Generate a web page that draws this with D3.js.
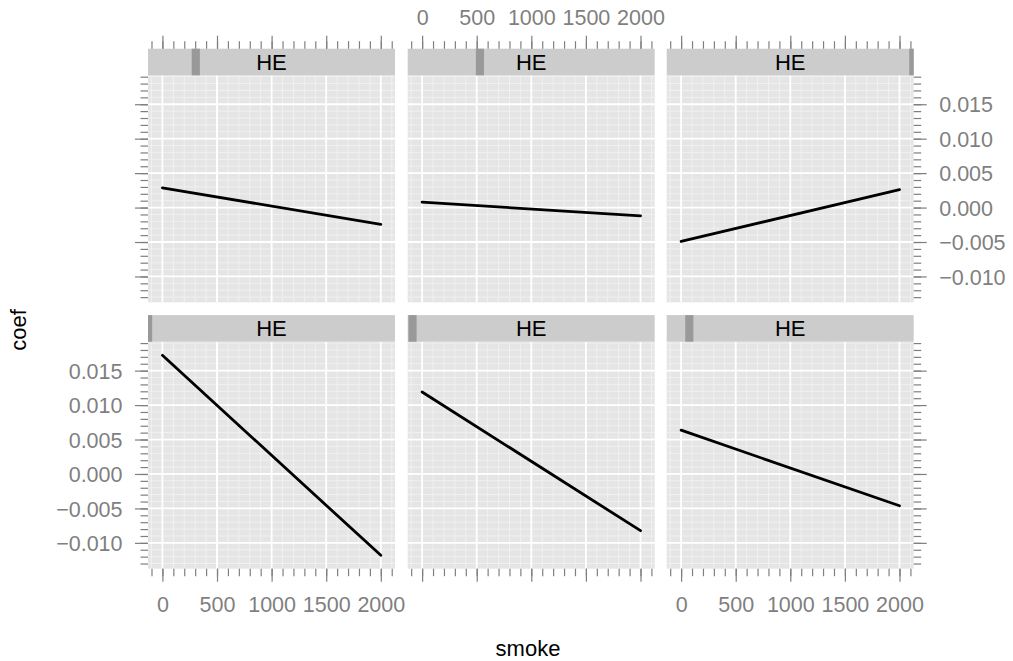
<!DOCTYPE html>
<html><head><meta charset="utf-8">
<script src="https://cdn.jsdelivr.net/npm/d3@7"></script>
<style>
body{margin:0;background:#fff;}
svg{display:block;font-family:"Liberation Sans",Arial,Helvetica,sans-serif;}
</style></head><body>
<svg id="chart" width="1013" height="661"></svg>
<script>
// smoke values at which each fitted line is evaluated
const smokeAt = [0, 2000];
// coefficient at smoke = 0 and smoke = 2000, panels in lattice order (bottom row first)
const coefPanel1 = [0.01722, -0.01181];
const coefPanel2 = [0.01190, -0.00823];
const coefPanel3 = [0.00636, -0.00462];
const coefPanel4 = [0.00285, -0.00243];
const coefPanel5 = [0.00078, -0.00120];
const coefPanel6 = [-0.00492, 0.00260];
// HE shingle interval shown in each strip, as a fraction of the HE range
const heLow  = [0.000, 0.003, 0.075, 0.177, 0.276, 0.982];
const heHigh = [0.017, 0.036, 0.108, 0.210, 0.309, 1.000];
const stripLabel = "HE";
const xTickValues = [0, 500, 1000, 1500, 2000];
const yTickValues = [-0.010, -0.005, 0.000, 0.005, 0.010, 0.015];
const xLabel = "smoke";
const yLabel = "coef";

const panels = [coefPanel1, coefPanel2, coefPanel3, coefPanel4, coefPanel5, coefPanel6];

// layout
const colLeft = [148, 407.7, 666.7];
const rowTop = [75.3, 341.7];          // panel tops, top row then bottom row
const panelW = 247, panelH = 227, stripH = 26.6;
const axisGrey = "#7F7F7F";
const fontSize = 21.5;
const titleSize = 22;

const xMinor = d3.range(-100, 2101, 100);
const yMinor = d3.range(-13, 20).map(v => v / 1000);

const x = d3.scaleLinear().domain([-132, 2130]).range([0, panelW]);
const y = d3.scaleLinear().domain([-0.01375, 0.0192]).range([panelH, 0]);
const he = d3.scaleLinear().domain([0, 1]).range([0, panelW]);

const svg = d3.select("#chart");
const line = d3.line().x(d => x(d[0])).y(d => y(d[1]));

panels.forEach((coef, i) => {
  const col = i % 3;
  const row = 1 - Math.floor(i / 3);
  const g = svg.append("g").attr("transform", `translate(${colLeft[col]},${rowTop[row]})`);

  // panel background and grid
  g.append("rect").attr("width", panelW).attr("height", panelH).attr("fill", "#E5E5E5");
  g.selectAll("line.vmin").data(xMinor).join("line")
    .attr("x1", d => x(d)).attr("x2", d => x(d)).attr("y1", 0).attr("y2", panelH)
    .attr("stroke", "#F2F2F2").attr("stroke-width", 0.9);
  g.selectAll("line.hmin").data(yMinor).join("line")
    .attr("y1", d => y(d)).attr("y2", d => y(d)).attr("x1", 0).attr("x2", panelW)
    .attr("stroke", "#F2F2F2").attr("stroke-width", 0.9);
  g.selectAll("line.vmaj").data(xTickValues).join("line")
    .attr("x1", d => x(d)).attr("x2", d => x(d)).attr("y1", 0).attr("y2", panelH)
    .attr("stroke", "#FFFFFF").attr("stroke-width", 1.8);
  g.selectAll("line.hmaj").data(yTickValues).join("line")
    .attr("y1", d => y(d)).attr("y2", d => y(d)).attr("x1", 0).attr("x2", panelW)
    .attr("stroke", "#FFFFFF").attr("stroke-width", 1.8);

  // fitted line
  g.append("path").datum(smokeAt.map((s, k) => [s, coef[k]]))
    .attr("d", line).attr("fill", "none").attr("stroke", "#000")
    .attr("stroke-width", 2.8).attr("stroke-linecap", "round");

  // strip with shingle interval
  const s = g.append("g").attr("transform", `translate(0,${-stripH})`);
  s.append("rect").attr("width", panelW).attr("height", stripH).attr("fill", "#CCCCCC");
  s.append("rect").attr("x", he(heLow[i])).attr("width", he(heHigh[i]) - he(heLow[i]))
    .attr("height", stripH).attr("fill", "#999999");
  s.append("text").attr("x", panelW / 2).attr("y", stripH / 2).attr("dy", "0.36em")
    .attr("text-anchor", "middle").attr("font-size", titleSize).attr("fill", "#000")
    .text(stripLabel);
});

function styleAxis(sel) {
  sel.select(".domain").remove();
  sel.selectAll("line").attr("stroke", axisGrey).attr("stroke-width", 1.2);
  sel.selectAll("text").attr("fill", axisGrey).attr("font-size", fontSize)
    .attr("font-family", '"Liberation Sans",Arial,Helvetica,sans-serif');
}

function drawAxis(axisFn, scale, major, minor, tx, ty, labelled, fixText) {
  const gMin = svg.append("g").attr("transform", `translate(${tx},${ty})`)
    .call(axisFn(scale).tickValues(minor).tickSize(7.5).tickFormat(""));
  styleAxis(gMin);
  gMin.selectAll("text").remove();
  const gMaj = svg.append("g").attr("transform", `translate(${tx},${ty})`)
    .call(axisFn(scale).tickValues(major).tickSize(13).tickPadding(12.5)
      .tickFormat(labelled ? (scale === x ? d3.format("d") : d3.format(".3f")) : ""));
  styleAxis(gMaj);
  if (!labelled) gMaj.selectAll("text").remove();
  else if (fixText) fixText(gMaj.selectAll("text"));
}

// top axes above the upper strips, labels on the middle column
colLeft.forEach((cx, c) => {
  drawAxis(d3.axisTop, x, xTickValues, xMinor, cx, rowTop[0] - stripH, c === 1,
    t => t.attr("y", -31.7).attr("dy", "0.36em"));
});
// bottom axes under the lower panels, labels on outer columns
colLeft.forEach((cx, c) => {
  drawAxis(d3.axisBottom, x, xTickValues, xMinor, cx, rowTop[1] + panelH, c !== 1,
    t => t.attr("y", 35.5).attr("dy", "0.36em"));
});
// left axes: labels on the lower row
rowTop.forEach((ry, r) => {
  drawAxis(d3.axisLeft, y, yTickValues, yMinor, colLeft[0], ry, r === 1,
    t => t.attr("dy", "0.36em"));
});
// right axes: labels on the upper row
rowTop.forEach((ry, r) => {
  drawAxis(d3.axisRight, y, yTickValues, yMinor, colLeft[2] + panelW, ry, r === 0,
    t => t.attr("dy", "0.36em"));
});

// axis titles
svg.append("text").attr("x", 528).attr("y", 648).attr("dy", "0.36em")
  .attr("text-anchor", "middle").attr("font-size", titleSize).attr("fill", "#000").text(xLabel);
svg.append("text").attr("transform", "translate(18,330) rotate(-90)").attr("dy", "0.36em")
  .attr("text-anchor", "middle").attr("font-size", titleSize).attr("fill", "#000").text(yLabel);
</script>
</body></html>
